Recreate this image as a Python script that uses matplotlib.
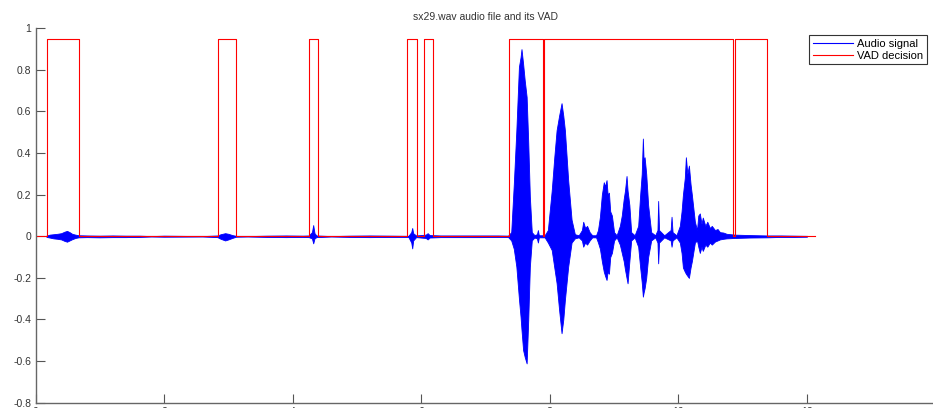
import numpy as np
import matplotlib
matplotlib.use("Agg")
import matplotlib.pyplot as plt

plt.rcParams['font.family'] = ['Liberation Sans', 'DejaVu Sans']

# audio envelope, x in units of 1e4 samples
env_x = [0.17, 0.22, 0.28, 0.34, 0.40, 0.45, 0.49, 0.53, 0.57, 0.62, 0.67,
         0.80, 1.00, 1.20, 1.40, 1.62, 1.80, 2.00, 2.60,
         2.83, 2.88, 2.95, 3.00, 3.06, 3.12, 3.30, 3.60, 3.90, 4.16,
         4.25, 4.30, 4.32, 4.34, 4.37, 4.60, 4.89, 5.20, 5.54,
         5.80, 5.845, 5.86, 5.875, 5.92, 6.07, 6.10, 6.13, 6.30, 6.60, 6.90, 7.20, 7.35,
         7.40, 7.44, 7.48, 7.52, 7.545, 7.56, 7.585, 7.61, 7.64, 7.665, 7.69, 7.72,
         7.76, 7.80, 7.815, 7.83, 7.92,
         7.97, 8.03, 8.07, 8.106, 8.145, 8.183, 8.21, 8.235, 8.286, 8.339, 8.39,
         8.45, 8.50, 8.52, 8.55, 8.58, 8.62, 8.66,
         8.72, 8.75, 8.78, 8.81, 8.84, 8.86, 8.883, 8.90, 8.92, 8.94, 8.966, 9.00, 9.04,
         9.09, 9.12, 9.15, 9.17, 9.194, 9.21, 9.238, 9.266, 9.32,
         9.375, 9.406, 9.43, 9.448, 9.46, 9.475, 9.50, 9.53, 9.577, 9.64,
         9.675, 9.686, 9.70, 9.78, 9.88, 9.894, 9.91, 9.97,
         10.023, 10.05, 10.071, 10.10, 10.117, 10.14, 10.164, 10.19, 10.21, 10.257,
         10.29, 10.31, 10.334, 10.36, 10.38, 10.42, 10.45, 10.49, 10.52, 10.57,
         10.61, 10.646, 10.70, 10.75, 10.88,
         11.10, 11.38, 11.60, 11.80, 12.00]
env_hi = [0.003, 0.008, 0.010, 0.012, 0.015, 0.022, 0.026, 0.020, 0.012, 0.008, 0.005,
          0.004, 0.003, 0.004, 0.003, 0.003, 0.001, 0.003, 0.001,
          0.004, 0.010, 0.015, 0.012, 0.006, 0.002, 0.001, 0.003, 0.004, 0.003,
          0.004, 0.020, 0.054, 0.015, 0.004, 0.001, 0.003, 0.004, 0.003,
          0.002, 0.020, 0.040, 0.015, 0.004, 0.008, 0.015, 0.006, 0.004, 0.004, 0.004, 0.004, 0.003,
          0.020, 0.250, 0.510, 0.815, 0.860, 0.900, 0.830, 0.750, 0.670, 0.450, 0.190, 0.020,
          0.006, 0.010, 0.030, 0.005, 0.005,
          0.030, 0.220, 0.380, 0.510, 0.580, 0.640, 0.580, 0.510, 0.270, 0.080, 0.010,
          0.005, 0.030, 0.070, 0.040, 0.050, 0.020, 0.005,
          0.005, 0.030, 0.094, 0.200, 0.260, 0.240, 0.270, 0.200, 0.210, 0.120, 0.100, 0.020, 0.005,
          0.050, 0.100, 0.180, 0.220, 0.290, 0.220, 0.150, 0.020, 0.005,
          0.050, 0.200, 0.300, 0.470, 0.360, 0.380, 0.300, 0.150, 0.020, 0.005,
          0.030, 0.170, 0.030, 0.005, 0.030, 0.094, 0.020, 0.005,
          0.050, 0.120, 0.200, 0.280, 0.380, 0.300, 0.340, 0.250, 0.200, 0.070,
          0.030, 0.100, 0.110, 0.060, 0.090, 0.050, 0.070, 0.040, 0.050, 0.030,
          0.035, 0.020, 0.018, 0.012, 0.008,
          0.006, 0.004, 0.004, 0.003, 0.002]
env_lo = [-0.003, -0.006, -0.010, -0.012, -0.015, -0.022, -0.026, -0.020, -0.014, -0.008, -0.005,
          -0.004, -0.005, -0.004, -0.004, -0.003, -0.001, -0.002, -0.001,
          -0.004, -0.012, -0.020, -0.015, -0.008, -0.002, -0.001, -0.003, -0.004, -0.003,
          -0.004, -0.010, -0.034, -0.010, -0.004, -0.001, -0.003, -0.004, -0.003,
          -0.003, -0.030, -0.058, -0.020, -0.004, -0.008, -0.015, -0.006, -0.004, -0.004, -0.004, -0.003, -0.003,
          -0.020, -0.060, -0.146, -0.300, -0.386, -0.450, -0.547, -0.580, -0.611, -0.400, -0.146, -0.020,
          -0.006, -0.010, -0.030, -0.005, -0.005,
          -0.030, -0.066, -0.150, -0.225, -0.354, -0.466, -0.400, -0.306, -0.146, -0.030, -0.010,
          -0.005, -0.020, -0.050, -0.030, -0.040, -0.020, -0.005,
          -0.005, -0.030, -0.060, -0.120, -0.170, -0.190, -0.210, -0.170, -0.180, -0.100, -0.080, -0.020, -0.005,
          -0.040, -0.080, -0.120, -0.160, -0.200, -0.226, -0.120, -0.020, -0.005,
          -0.050, -0.150, -0.220, -0.290, -0.270, -0.250, -0.200, -0.100, -0.020, -0.005,
          -0.030, -0.130, -0.030, -0.005, -0.020, -0.050, -0.020, -0.005,
          -0.030, -0.080, -0.150, -0.170, -0.180, -0.190, -0.200, -0.150, -0.120, -0.030,
          -0.020, -0.050, -0.080, -0.050, -0.070, -0.040, -0.050, -0.030, -0.040, -0.025,
          -0.020, -0.015, -0.012, -0.010, -0.008,
          -0.006, -0.005, -0.003, -0.003, -0.002]

# VAD decision segments
vad_on = [0.179, 2.834, 4.258, 5.773, 6.042, 7.369, 7.908, 10.883]
vad_off = [0.672, 3.118, 4.398, 5.938, 6.177, 7.888, 10.852, 11.381]
vad_level = 0.95
vad_end = 12.12

xticks = [0, 2, 4, 6, 8, 10, 12]
yticks = [-0.8, -0.6, -0.4, -0.2, 0, 0.2, 0.4, 0.6, 0.8, 1]

# step curve for the vad
vx = [0.0]
vy = [0.0]
for a, b in zip(vad_on, vad_off):
    vx += [a, a, b, b]
    vy += [0, vad_level, vad_level, 0]
vx.append(vad_end)
vy.append(0.0)

fig = plt.figure(figsize=(9.33, 4.08), dpi=100)
ax = fig.add_axes([35.5 / 933, 1 - 402.7 / 408, 900 / 933, 374.4 / 408])

ax.fill_between(env_x, env_lo, env_hi, color='#0000ff', lw=0.6, edgecolor='#0000ff')
ax.plot(env_x, np.zeros(len(env_x)), color='#0000ff', lw=0.8, label='Audio signal')
ax.plot(vx, vy, color='#ff0000', lw=0.8, label='VAD decision')

ax.set_xlim(0, 14)
ax.set_ylim(-0.8, 1)
ax.set_xticks(xticks)
ax.set_xticklabels([str(t) for t in xticks])
ax.set_yticks(yticks)
ax.set_yticklabels(['%g' % t for t in yticks])
ax.tick_params(direction='in', length=6.5, width=0.8, colors='#555555',
               labelcolor='#333333', labelsize=7.5, pad=3)
for s in ['top', 'right']:
    ax.spines[s].set_visible(False)
for s in ['left', 'bottom']:
    ax.spines[s].set_color('#666666')
    ax.spines[s].set_linewidth(1.0)

fig.text(0.52, 1 - 17 / 408, 'sx29.wav audio file and its VAD', ha='center', va='center',
         fontsize=7.5, color='#333333')

leg = ax.legend(loc='upper right', bbox_to_anchor=(927 / 933, 1 - 35 / 408),
                bbox_transform=fig.transFigure, fontsize=8, handlelength=3.6,
                fancybox=False, framealpha=1, borderpad=0.35, labelspacing=0.15,
                handletextpad=0.4, borderaxespad=0)
leg.get_frame().set_edgecolor('#333333')
leg.get_frame().set_linewidth(0.8)

fig.savefig('out.png', dpi=100)
